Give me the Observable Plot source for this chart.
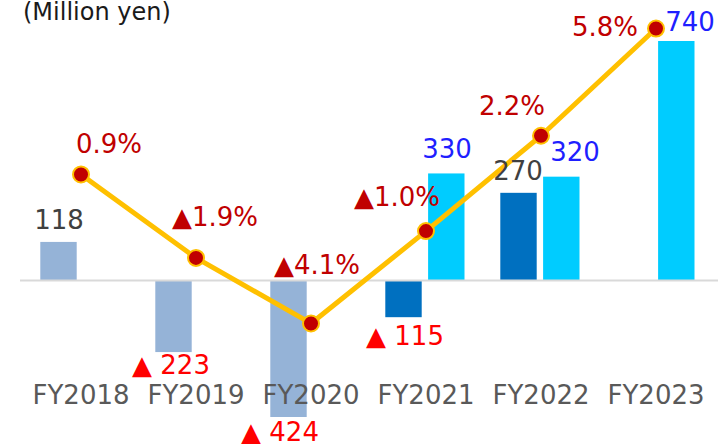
<!DOCTYPE html>
<html>
<head>
<meta charset="utf-8">
<script src="https://cdn.jsdelivr.net/npm/d3@7"></script>
<script src="https://cdn.jsdelivr.net/npm/@observablehq/plot@0.6"></script>
<style>
  html, body { margin: 0; padding: 0; background: #fff; }
  #wrap { position: relative; width: 718px; height: 444px; overflow: hidden; }
  #unit { position: absolute; left: 23px; top: 0px; font: 24px/24px "DejaVu Sans", sans-serif; color: #1a1a1a; white-space: nowrap; z-index: 2; }
</style>
</head>
<body>
<div id="wrap">
  <div id="unit">(Million yen)</div>
  <div id="chart"></div>
</div>
<script>
// ---- data ----
const categories = ["FY2018", "FY2019", "FY2020", "FY2021", "FY2022", "FY2023"];
const profitA = [118, -223, -424, -115, 270, null];   // left bars (Million yen)
const profitB = [null, null, null, 330, 320, 740];    // right bars (Million yen)
const marginPct = [0.9, -1.9, -4.1, -1.0, 2.2, 5.8];  // line (%)
const unitLabel = "(Million yen)";

// ---- styles ----
const colorA = ["#95b3d7", "#95b3d7", "#95b3d7", "#0070c0", "#0070c0", null];
const colorB = "#00ccff";
const lineColor = "#ffc000";
const dotColor = "#c00000";
const labelOffA = [[-22, -22], [-25, 13], [-31, 15], [-21, 19], [-23, -22], null];
const labelOffB = [null, null, null, [21, -24], [34, -24], [34, -19]];
const labelOffPct = [[28, -30], [19, -40], [6, -58], [-29, -33], [-29, -29], [-51, -1]];

// secondary (percent) axis mapped onto the value axis
const pctToY = d3.scaleLinear().domain([0, 5.8]).range([245.3, 780.2]);

const fmtVal = v => v < 0 ? "▲ " + Math.abs(v) : String(v);
const fmtPct = p => (p < 0 ? "▲" : "") + Math.abs(p).toFixed(1) + "%";

const rowsA = categories.map((c, i) => ({cat: c, value: profitA[i], color: colorA[i], i}))
  .filter(d => d.value != null);
const rowsB = categories.map((c, i) => ({cat: c, value: profitB[i], i}))
  .filter(d => d.value != null);
const rowsL = categories.map((c, i) => ({cat: c, pct: marginPct[i], i}));

const font = "DejaVu Sans";
const fs = 26;

const labelMarks = [];
rowsA.forEach(d => {
  const [dx, dy] = labelOffA[d.i];
  labelMarks.push(Plot.text([d], {
    x: "cat", y: "value", text: r => fmtVal(r.value), dx, dy,
    fill: d.value < 0 ? "#ff0000" : "#404040", fontSize: fs
  }));
});
rowsB.forEach(d => {
  const [dx, dy] = labelOffB[d.i];
  labelMarks.push(Plot.text([d], {
    x: "cat", y: "value", text: r => fmtVal(r.value), dx, dy,
    fill: "#1f1fff", fontSize: fs
  }));
});
rowsL.forEach(d => {
  const [dx, dy] = labelOffPct[d.i];
  labelMarks.push(Plot.text([d], {
    x: "cat", y: r => pctToY(r.pct), text: r => fmtPct(r.pct), dx, dy,
    fill: "#c00000", fontSize: fs
  }));
});

const chart = Plot.plot({
  width: 718,
  height: 444,
  margin: 0,
  style: {fontFamily: font, background: "transparent", overflow: "visible"},
  x: {type: "band", domain: categories, range: [21, 715], padding: 0},
  y: {domain: [-424, 740], range: [417, 41], axis: null},
  color: {type: "identity"},
  marks: [
    Plot.barY(rowsA, {x: "cat", y: "value", fill: "color", insetLeft: 17.3, insetRight: 61.3}),
    Plot.barY(rowsB, {x: "cat", y: "value", fill: colorB, insetLeft: 60.1, insetRight: 18.5}),
    Plot.ruleY([0], {stroke: "#d9d9d9", strokeWidth: 2, insetLeft: 20}),
    Plot.axisX({anchor: "bottom", tickSize: 0, tickPadding: 0, dy: -59, fontSize: fs, fill: "#595959", label: null}),
    Plot.line(rowsL, {x: "cat", y: d => pctToY(d.pct), stroke: lineColor, strokeWidth: 5}),
    Plot.dot(rowsL, {x: "cat", y: d => pctToY(d.pct), r: 8, fill: dotColor, stroke: lineColor, strokeWidth: 2}),
    ...labelMarks
  ]
});
document.getElementById("chart").appendChild(chart);
document.getElementById("unit").textContent = unitLabel;
</script>
</body>
</html>
